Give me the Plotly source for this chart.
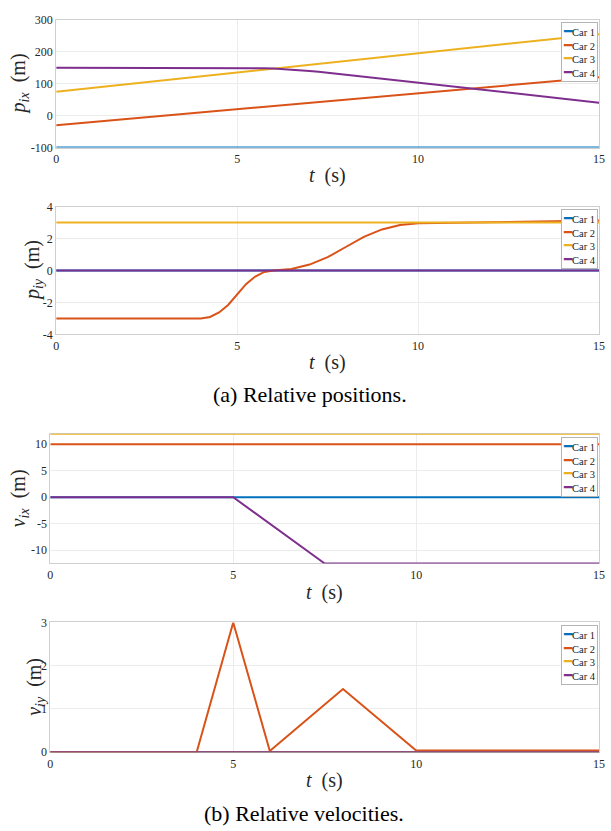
import plotly.graph_objects as go

W, H = 611, 831

# ---------------- data ----------------
car_names = ["Car 1", "Car 2", "Car 3", "Car 4"]
car_colors = ["#0072BD", "#D95319", "#EDB120", "#7E2F8E"]

x_ticks = [0, 5, 10, 15]
x_tick_text = ["0", "5", "10", "15"]

# (a) relative positions, x component
p_ix_t_car1 = [0, 15]
p_ix_car1 = [-100, -100]
p_ix_t_car2 = [0, 15]
p_ix_car2 = [-30, 120]
p_ix_t_car3 = [0, 15]
p_ix_car3 = [75, 255]
p_ix_t_car4 = [0, 5, 5.25, 5.5, 5.75, 6, 6.25, 6.5, 6.75, 7, 7.25, 7.5, 15]
p_ix_car4 = [150, 150, 149.8, 149.4, 148.6, 147.5, 146.1, 144.4, 142.4, 140, 137.3, 134.4, 40.6]
p_ix_ticks = [-100, 0, 100, 200, 300]
p_ix_tick_text = ["-100", "0", "100", "200", "300"]

# (a) relative positions, y component
p_iy_t_car1 = [0, 15]
p_iy_car1 = [0, 0]
p_iy_t_car2 = [0, 4, 4.25, 4.5, 4.75, 5, 5.25, 5.5, 5.75, 6, 6.5, 7, 7.5, 8, 8.5, 9, 9.5, 10, 15]
p_iy_car2 = [-3, -3, -2.91, -2.63, -2.16, -1.5, -0.84, -0.38, -0.09, 0.0, 0.09, 0.37, 0.83, 1.47,
             2.11, 2.57, 2.85, 2.95, 3.13]
p_iy_t_car3 = [0, 15]
p_iy_car3 = [3, 3]
p_iy_t_car4 = [0, 15]
p_iy_car4 = [0, 0]
p_iy_ticks = [-4, -2, 0, 2, 4]
p_iy_tick_text = ["-4", "-2", "0", "2", "4"]

# (b) relative velocities, x component
v_ix_t_car1 = [0, 15]
v_ix_car1 = [0, 0]
v_ix_t_car2 = [0, 15]
v_ix_car2 = [10, 10]
v_ix_t_car3 = [0, 15]
v_ix_car3 = [12, 12]
v_ix_t_car4 = [0, 5, 7.5, 15]
v_ix_car4 = [0, 0, -12.5, -12.5]
v_ix_ticks = [-10, -5, 0, 5, 10]
v_ix_tick_text = ["-10", "-5", "0", "5", "10"]

# (b) relative velocities, y component
v_iy_t_car1 = [0, 15]
v_iy_car1 = [0, 0]
v_iy_t_car2 = [0, 4, 5, 6, 8, 10, 15]
v_iy_car2 = [0, 0, 3, 0.03, 1.46, 0.04, 0.04]
v_iy_t_car3 = [0, 15]
v_iy_car3 = [0, 0]
v_iy_t_car4 = [0, 15]
v_iy_car4 = [0, 0]
v_iy_ticks = [0, 1, 2, 3]
v_iy_tick_text = ["0", "1", "2", "3"]

captions = ["(a) Relative positions.", "(b) Relative velocities."]

# ---------------- layout helpers ----------------
def px_x(p):
    return p / W

def px_y(p):
    return 1 - p / H

SERIF = "Liberation Serif"
GRID = "#ececec"
BOX = "#cfcfcf"
TXT = "#262626"

panels = [
    dict(series=[(p_ix_t_car1, p_ix_car1), (p_ix_t_car2, p_ix_car2),
                 (p_ix_t_car3, p_ix_car3), (p_ix_t_car4, p_ix_car4)],
         yticks=p_ix_ticks, yticktext=p_ix_tick_text, yrange=[-100, 300],
         left=54, right=605, top=13, bottom=143,
         ylabel="<i>p</i><sub><i>ix</i></sub>\u00a0\u00a0(m)", ylabel_x=17, xlabel_y=171, legend_top=15),
    dict(series=[(p_iy_t_car1, p_iy_car1), (p_iy_t_car2, p_iy_car2),
                 (p_iy_t_car3, p_iy_car3), (p_iy_t_car4, p_iy_car4)],
         yticks=p_iy_ticks, yticktext=p_iy_tick_text, yrange=[-4, 4],
         left=54, right=605, top=203, bottom=333,
         ylabel="<i>p</i><sub><i>iy</i></sub>\u00a0\u00a0(m)", ylabel_x=31, xlabel_y=362, legend_top=205),
    dict(series=[(v_ix_t_car1, v_ix_car1), (v_ix_t_car2, v_ix_car2),
                 (v_ix_t_car3, v_ix_car3), (v_ix_t_car4, v_ix_car4)],
         yticks=v_ix_ticks, yticktext=v_ix_tick_text, yrange=[-12.5, 12],
         left=48, right=605, top=434, bottom=566,
         ylabel="<i>v</i><sub><i>ix</i></sub>\u00a0\u00a0(m)", ylabel_x=17, xlabel_y=596, legend_top=437),
    dict(series=[(v_iy_t_car1, v_iy_car1), (v_iy_t_car2, v_iy_car2),
                 (v_iy_t_car3, v_iy_car3), (v_iy_t_car4, v_iy_car4)],
         yticks=v_iy_ticks, yticktext=v_iy_tick_text, yrange=[0, 3],
         left=48, right=605, top=626, bottom=758,
         ylabel="<i>v</i><sub><i>iy</i></sub>\u00a0\u00a0(m)", ylabel_x=33, xlabel_y=787, legend_top=629),
]

fig = go.Figure()
annotations = []
layout = dict(width=W, height=H, margin=dict(l=0, r=0, t=0, b=0),
              paper_bgcolor="white", plot_bgcolor="white", showlegend=False)

for i, pn in enumerate(panels):
    k = "" if i == 0 else str(i + 1)
    for j, (tx, ty) in enumerate(pn["series"]):
        fig.add_trace(go.Scatter(x=tx, y=ty, mode="lines", name=car_names[j],
                                 line=dict(color=car_colors[j], width=2),
                                 xaxis="x" + k, yaxis="y" + k, showlegend=False))
    common = dict(showline=True, mirror=True, linecolor=BOX, linewidth=1,
                  showgrid=True, gridcolor=GRID, gridwidth=1, zeroline=False,
                  layer="below traces",
                  ticks="", tickfont=dict(family=SERIF, size=12, color=TXT))
    layout["xaxis" + k] = dict(domain=[px_x(pn["left"]), px_x(pn["right"])], anchor="y" + k,
                               range=[0, 15], tickmode="array", tickvals=x_ticks,
                               ticktext=x_tick_text, ticklabeloverflow="allow", **common)
    layout["yaxis" + k] = dict(domain=[px_y(pn["bottom"]), px_y(pn["top"])], anchor="x" + k,
                               range=pn["yrange"], tickmode="array", tickvals=pn["yticks"],
                               ticktext=pn["yticktext"], **common)
    # axis titles
    annotations.append(dict(text="<i>t</i>\u00a0\u00a0(s)", xref="paper", yref="paper",
                            x=px_x((pn["left"] + pn["right"]) / 2), y=px_y(pn["xlabel_y"]),
                            xanchor="center", yanchor="middle", showarrow=False,
                            font=dict(family=SERIF, size=20, color=TXT)))
    annotations.append(dict(text=pn["ylabel"], xref="paper", yref="paper", textangle=-90,
                            x=px_x(pn["ylabel_x"]), y=px_y((pn["top"] + pn["bottom"]) / 2),
                            xanchor="center", yanchor="middle", showarrow=False,
                            font=dict(family=SERIF, size=20, color=TXT)))
    # legend box
    lines = [f"<span style='color:{c};font-size:14px'>━</span>{n}"
             for n, c in zip(car_names, car_colors)]
    annotations.append(dict(text="<br>".join(lines), xref="paper", yref="paper",
                            x=px_x(pn["right"] - 1), y=px_y(pn["legend_top"]),
                            xanchor="right", yanchor="top", align="left", showarrow=False,
                            bgcolor="white", bordercolor="#b4b4b4", borderwidth=1, borderpad=1,
                            font=dict(family=SERIF, size=10.5, color="#1a1a1a")))

annotations.append(dict(text=captions[0], xref="paper", yref="paper", x=px_x(312), y=px_y(394),
                        xanchor="center", yanchor="middle", showarrow=False,
                        font=dict(family=SERIF, size=22, color="black")))
annotations.append(dict(text=captions[1], xref="paper", yref="paper", x=px_x(306), y=px_y(820),
                        xanchor="center", yanchor="middle", showarrow=False,
                        font=dict(family=SERIF, size=22, color="black")))

layout["annotations"] = annotations
fig.update_layout(**layout)
fig.write_html("out.html", config={"displayModeBar": False},
               post_script="document.body.style.margin='0';document.body.style.overflow='hidden';")
